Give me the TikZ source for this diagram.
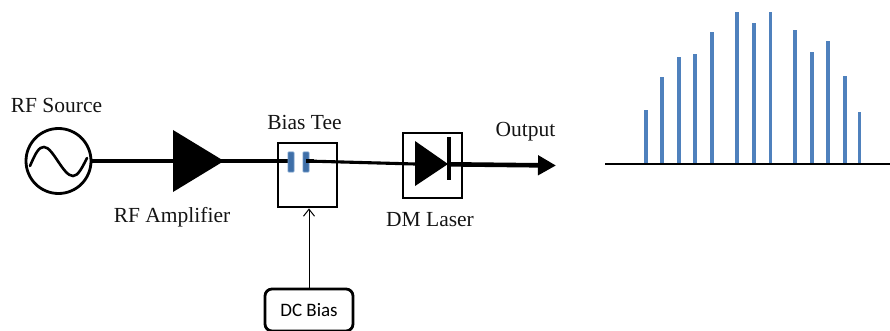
\documentclass[tikz,border=0pt]{standalone}
\usepackage{fontspec}
\setmainfont{Liberation Serif}
\newfontfamily\dcfont{Carlito}
\usetikzlibrary{arrows.meta}
\definecolor{combblue}{HTML}{4F81BD}
\definecolor{capfill}{HTML}{3F6FA8}
\definecolor{capline}{HTML}{6F97C6}
\tikzset{
  x=1pt,y=-1pt,
  lbl/.style={inner sep=0pt,anchor=base,font=\fontsize{21.5}{21.5}\selectfont,text=black!92},
  blockbox/.style={draw=black,line width=2.8pt,minimum width=#1,inner sep=0pt},
  wire/.style={draw=black,line width=3.1pt},
  capa/.style={draw=capline,fill=capfill,line width=0.8pt,minimum width=6pt,minimum height=20pt,inner sep=0pt,rounded corners=0.8pt},
  comb/.style={draw=combblue,line width=3.1pt},
}
\begin{document}
\begin{tikzpicture}
\useasboundingbox (0,0) rectangle (890,331);
% RF source
\node[draw=black,line width=2.8pt,circle,minimum size=65pt,inner sep=0pt] (src) at (58.5,161) {};
\draw[line width=2.6pt,line cap=round] (30,166) .. controls (36,152) and (39,147) .. (44,147) .. controls (53,147) and (63,176) .. (73,176) .. controls (78,176) and (82,168) .. (87,158);
\node[lbl] (srclab) at (56.5,113) {RF Source};
% Amplifier
\coordinate (ampin) at (173,161);
\coordinate (amptip) at (218,161);
\fill (173,130) -- (224,161) -- (173,192) -- cycle;
\node[lbl] (amplab) at (172,222) {RF Amplifier};
% connectors behind the capacitors
\node[blockbox=59pt,minimum height=64pt] (tee) at (307.5,175) {};
\coordinate (c1w) at (291,161);
\coordinate (c2w) at (306,161);
\coordinate (lasin) at (415,164);
\draw[wire] (src.east) -- (ampin);
\draw[wire] (amptip) -- (c1w);
\draw[wire] (c2w) -- (lasin);
% Bias tee
\node[capa] (c1) at (291,162) {};
\node[capa] (c2) at (306,162) {};
\draw[wire] (c2w) -- ++(8,0);
\node[lbl] (teelab) at (304.5,130) {Bias Tee};
% Laser
\node[blockbox=59pt,minimum height=65pt] (las) at (432.5,165.5) {};
\coordinate (lastip) at (448,164);
\fill (415,141) -- (lastip) -- (415,186) -- cycle;
\draw[line width=3.6pt] (449,137) -- (449,180);
\node[lbl] (laslab) at (430,226) {DM Laser};
\node[lbl] (outlab) at (525.5,137) {Output};
\coordinate (laserout) at (449,164.3);
\coordinate (outend) at (556,165.5);
\draw[draw=black,line width=4.6pt,-{Triangle[length=18pt,width=19pt]}] (laserout) -- (outend);
% DC Bias
\node[draw=black,line width=2.8pt,rounded corners=7pt,minimum width=88pt,minimum height=42pt,inner sep=0pt,font=\dcfont\fontsize{19}{19}\selectfont] (dc) at (309,310) {DC Bias};
\draw[line width=1pt,-{Straight Barb[length=7pt,width=11pt]}] (dc.north) -- (tee.south -| dc.north);
% Spectrum
\coordinate (sl) at (605,164);
\coordinate (sr) at (890,164);
\foreach \x/\t in {646/110,662/77,679/57,695/54,712/32,737/12,754/23,770.5/12,795/30,812/52,828/41,845/76,859.5/112}
  \draw[comb] (\x,164) -- (\x,\t);
\draw[line width=2.6pt] (sl) -- (sr);
\end{tikzpicture}
\end{document}
